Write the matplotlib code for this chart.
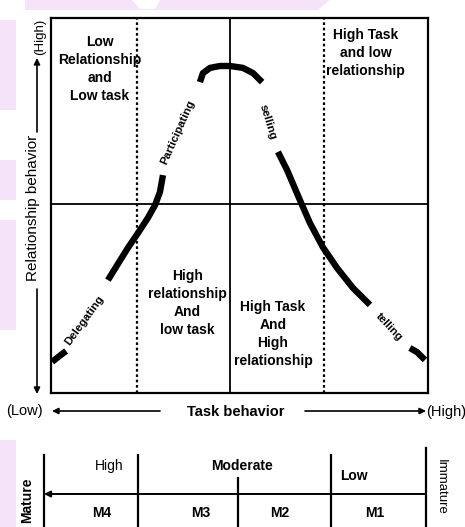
import numpy as np
import matplotlib
matplotlib.use('Agg')
import matplotlib.pyplot as plt
from matplotlib.patches import Polygon, Rectangle

plt.rcParams['font.family'] = ['Liberation Sans', 'DejaVu Sans']

# curve pieces (task behavior, relationship behavior), 0..10 scale
task_delegating_low = [0.03, 0.19, 0.40]
rel_delegating_low = [0.83, 0.96, 1.12]
task_delegating = [1.51, 1.78, 2.04, 2.31, 2.57, 2.76, 2.89, 2.97]
rel_delegating = [3.01, 3.45, 3.87, 4.27, 4.67, 5.01, 5.36, 5.81]
task_top = [3.95, 4.03, 4.22, 4.48, 4.75, 5.09, 5.36, 5.60]
rel_top = [8.29, 8.53, 8.67, 8.72, 8.72, 8.67, 8.53, 8.29]
task_selling = [6.02, 6.26, 6.60, 6.87, 7.21, 7.59, 8.01, 8.46]
rel_selling = [6.43, 5.95, 5.15, 4.53, 3.89, 3.33, 2.80, 2.35]
task_telling = [9.52, 9.71, 9.92]
rel_telling = [1.20, 1.09, 0.88]

styles = ['Delegating', 'Participating', 'selling', 'telling']
quadrant_labels = ['Low\nRelationship\nand\nLow task',
                   'High Task\nand low\nrelationship',
                   'High\nrelationship\nAnd\nlow task',
                   'High Task\nAnd\nHigh\nrelationship']
readiness = ['High', 'Moderate', 'Low']
stages = ['M4', 'M3', 'M2', 'M1']

task_mid = 4.75
rel_mid = 5.04
dotted = [2.28, 7.24]

W, H = 465, 527
fig = plt.figure(figsize=(W / 100, H / 100), dpi=100)

# overlay in pixel units for annotations
ov = fig.add_axes([0, 0, 1, 1])
ov.set_xlim(0, W)
ov.set_ylim(H, 0)
ov.axis('off')

# faint watermark
wm = '#f5e4f9'
ov.add_patch(Polygon([(25, 0), (132, 0), (140, 9), (155, 9), (160, 0), (330, 0), (318, 10), (25, 10)],
                     color=wm, lw=0, zorder=0))
for (y0, y1) in [(20, 110), (160, 200), (220, 330), (440, 527)]:
    ov.add_patch(Rectangle((0, y0), 16, y1 - y0, color=wm, lw=0, zorder=0))

# main box
ax = fig.add_axes([51 / W, 1 - 393 / H, 377 / W, 375 / H])
ax.set_xlim(0, 10)
ax.set_ylim(0, 10)
ax.set_xticks([])
ax.set_yticks([])
ax.patch.set_alpha(0)
for s in ax.spines.values():
    s.set_linewidth(1.6)
    s.set_color('black')

ax.axvline(task_mid, color='black', lw=1.3)
ax.axhline(rel_mid, color='black', lw=1.3)
for d in dotted:
    ax.axvline(d, color='black', lw=1.6, linestyle=(0, (1.2, 1.2)))

for tx, ry in [(task_delegating_low, rel_delegating_low), (task_delegating, rel_delegating),
               (task_top, rel_top), (task_selling, rel_selling), (task_telling, rel_telling)]:
    ax.plot(tx, ry, color='black', lw=4.6, solid_capstyle='butt', solid_joinstyle='round')

style_pos = [(0.90, 1.95, 54), (3.37, 6.96, 66), (5.76, 7.23, -73), (8.97, 1.76, -47)]
for name, (x, y, r) in zip(styles, style_pos):
    ax.text(x, y, name, rotation=r, ha='center', va='center', fontsize=8.2, fontweight='bold')

quad_pos = [(1.30, 8.64), (8.35, 9.07), (3.61, 2.40), (5.89, 1.57)]
for lab, (x, y) in zip(quadrant_labels, quad_pos):
    ax.text(x, y, lab, ha='center', va='center', fontsize=10, fontweight='bold', linespacing=1.35)

# left axis annotation
arr = dict(arrowstyle='-|>', color='black', lw=1.2, mutation_scale=9, shrinkA=0, shrinkB=0)
ov.annotate('', xy=(37, 58), xytext=(37, 132), arrowprops=arr)
ov.annotate('', xy=(37, 394), xytext=(37, 289), arrowprops=arr)
ov.text(40, 37, '(High)', rotation=90, ha='center', va='center', fontsize=9.5)
ov.text(33, 208, 'Relationship behavior', rotation=90, ha='center', va='center', fontsize=11)
ov.text(24, 411, '(Low)', ha='center', va='center', fontsize=10.5)

# bottom axis annotation
ov.annotate('', xy=(52, 411), xytext=(160, 411), arrowprops=arr)
ov.annotate('', xy=(426, 411), xytext=(305, 411), arrowprops=arr)
ov.text(236, 412, 'Task behavior', ha='center', va='center', fontsize=10.5, fontweight='bold')
ov.text(446, 412, '(High)', ha='center', va='center', fontsize=10.5)

# maturity table
for x, y0 in [(44, 455), (138, 455), (238, 478), (331, 455), (426, 448)]:
    ov.plot([x, x], [y0, H], color='black', lw=1.6)
ov.annotate('', xy=(44, 494), xytext=(426, 494),
            arrowprops=dict(arrowstyle='-|>', color='black', lw=1.4, mutation_scale=9, shrinkA=0, shrinkB=0))
read_pos = [(109, 466, 'normal'), (242, 466, 'bold'), (354, 476, 'bold')]
for lab, (x, y, w) in zip(readiness, read_pos):
    ov.text(x, y, lab, ha='center', va='center', fontsize=10, fontweight=w)
for lab, x in zip(stages, [102, 201, 280, 375]):
    ov.text(x, 513, lab, ha='center', va='center', fontsize=10, fontweight='bold')
ov.text(27, 500, 'Mature', rotation=90, ha='center', va='center', fontsize=10, fontweight='bold')
ov.text(441, 487, 'Immature', rotation=-90, ha='center', va='center', fontsize=9.5)

fig.savefig('out.png', dpi=100)
